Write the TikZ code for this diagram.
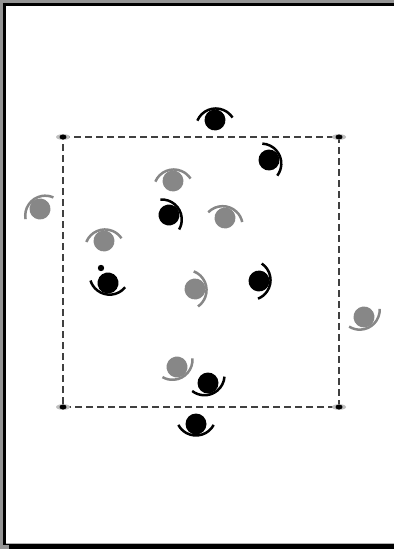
\documentclass[tikz,border=0pt]{standalone}
\usepackage{tikz}
\usetikzlibrary{calc}

\begin{document}
\begin{tikzpicture}[
    x=1pt, y=-1pt,
    blackagent/.style={color=black},
    grayagent/.style={color=black!47},
    region/.style={dashed, dash pattern=on 7pt off 4pt, line width=1.3pt, draw=black!75},
    halo/.style={fill=black!25},
    pics/agent/.style={code={
        \begin{scope}[rotate=#1]
            \fill (0,0) circle (10.5);
            \draw[line width=2.5pt] (-8.5,0) ++(-62:20) arc[start angle=-62, end angle=62, radius=20];
        \end{scope}
    }},
]

% Page frame
\fill[black!42] (0,0) rectangle (394,549);
\fill[black] (3,3) rectangle (394,545);
\fill[black] (9,545) rectangle (394,549);
\fill[black!30] (6,6) rectangle (394,544);
\fill[white] (6,6) rectangle (394,543);
\useasboundingbox (0,0) rectangle (394,549);

% Corners of the region
\coordinate (nw) at (63,137);
\coordinate (ne) at (339,137);
\coordinate (se) at (339,407);
\coordinate (sw) at (63,407);

\draw[region] (nw) -- (ne) -- (se) -- (sw) -- cycle;

\foreach \c in {nw,ne,se,sw} {
    \fill[halo] (\c) ellipse (7 and 2.8);
    \fill (\c) ellipse (3.5 and 2.5);
}

% Gray agents
\pic[grayagent] at (40,209) {agent=128};
\pic[grayagent] at (173,181) {agent=95};
\pic[grayagent] at (225,218) {agent=74};
\pic[grayagent] at (104,241) {agent=96};
\pic[grayagent] at (195,289) {agent=7};
\pic[grayagent] at (364,317) {agent=-60};
\pic[grayagent] at (177,367) {agent=-58};

% Black agents
\pic[blackagent] at (215,120) {agent=95};
\pic[blackagent] at (269,160) {agent=25};
\pic[blackagent] at (169,215) {agent=32};
\pic[blackagent] at (108,283) {agent=-101};
\pic[blackagent] at (259,281) {agent=-6};
\pic[blackagent] at (208,383) {agent=-66};
\pic[blackagent] at (196,424) {agent=-90};

% Marker
\fill (101,268) circle (3.2);

\end{tikzpicture}
\end{document}
